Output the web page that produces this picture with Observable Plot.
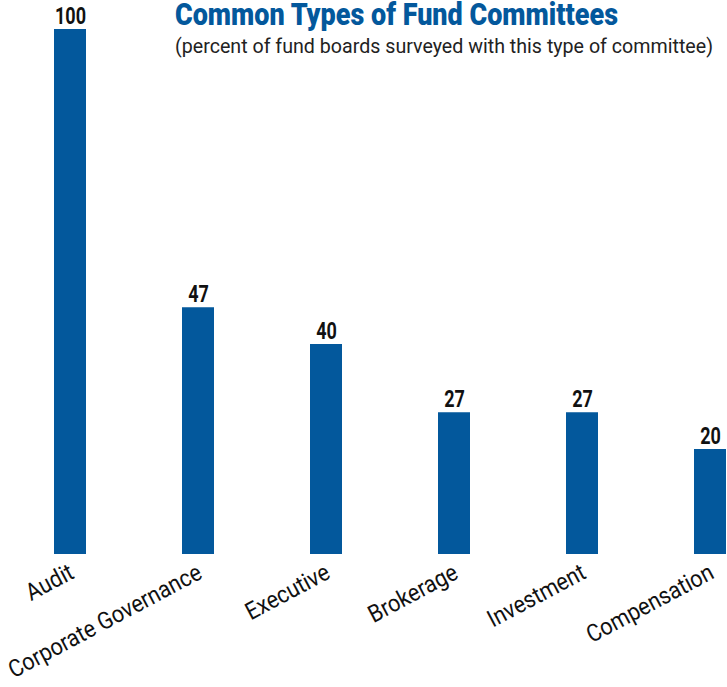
<!DOCTYPE html>
<html>
<head>
<meta charset="utf-8">
<script src="https://cdn.jsdelivr.net/npm/d3@7"></script>
<script src="https://cdn.jsdelivr.net/npm/@observablehq/plot@0.6"></script>
<style>
  body { margin: 0; background: #fff; }
  #wrap { position: relative; width: 727px; height: 687px; font-family: Roboto, "Liberation Sans", sans-serif; }
  #title, #subtitle { position: absolute; left: 175px; white-space: nowrap; transform-origin: 0 0; line-height: 1.1; }
  #title { top: -3px; font-size: 32px; font-weight: 900; color: #03589c; }
  #subtitle { top: 35px; font-size: 20px; color: #222; }
</style>
</head>
<body>
<div id="wrap">
  <div id="chart"></div>
  <div id="title">Common Types of Fund Committees</div>
  <div id="subtitle">(percent of fund boards surveyed with this type of committee)</div>
</div>
<script>
const categories = ["Audit", "Corporate Governance", "Executive", "Brokerage", "Investment", "Compensation"];
const values = [100, 47, 40, 27, 27, 20];
const data = categories.map((c, i) => ({category: c, value: values[i]}));
const font = "Roboto, 'Liberation Sans', sans-serif";

const chart = Plot.plot({
  width: 727,
  height: 687,
  marginLeft: 52,
  marginRight: 0,
  marginTop: 29,
  marginBottom: 133,
  style: {fontFamily: font, background: "#fff"},
  x: {domain: categories, paddingInner: 0.75, paddingOuter: 0, axis: null},
  y: {domain: [0, 100], axis: null},
  marks: [
    Plot.barY(data, {x: "category", y: "value", fill: "#03589c"}),
    Plot.text(data, {x: "category", y: "value", text: d => String(d.value), dy: -6, lineAnchor: "bottom", fontSize: 24, fontWeight: 700, fill: "#111", className: "vlabel"}),
    Plot.text(data, {x: "category", text: "category", frameAnchor: "bottom", dx: 5, dy: 23, rotate: -28, textAnchor: "end", lineAnchor: "bottom", fontSize: 24, fill: "#111", className: "xlabel"})
  ]
});
document.getElementById("chart").appendChild(chart);

// horizontal condensing to mimic the condensed typeface of the reference
function condense(selector, refIndex, target) {
  const texts = Array.from(chart.querySelectorAll(selector + " text"));
  if (!texts.length) return;
  const k = Math.min(1, target / texts[refIndex].getComputedTextLength());
  texts.forEach(t => {
    const w = t.getComputedTextLength();
    t.setAttribute("textLength", w * k);
    t.setAttribute("lengthAdjust", "spacingAndGlyphs");
  });
}
condense(".vlabel", 0, 31);
condense(".xlabel", 1, 215);

function fit(id, target) {
  const el = document.getElementById(id);
  const w = el.getBoundingClientRect().width;
  el.style.transform = `scaleX(${target / w})`;
}
fit("title", 443);
fit("subtitle", 538);
</script>
</body>
</html>
